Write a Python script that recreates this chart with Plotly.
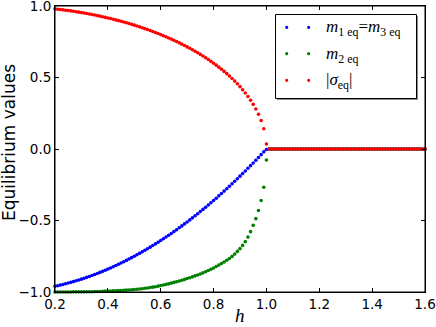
import plotly.graph_objects as go

# ---- data ----
H = [0.20, 0.21, 0.22, 0.23, 0.24, 0.25, 0.26, 0.27, 0.28, 0.29,
     0.30, 0.31, 0.32, 0.33, 0.34, 0.35, 0.36, 0.37, 0.38, 0.39,
     0.40, 0.41, 0.42, 0.43, 0.44, 0.45, 0.46, 0.47, 0.48, 0.49,
     0.50, 0.51, 0.52, 0.53, 0.54, 0.55, 0.56, 0.57, 0.58, 0.59,
     0.60, 0.61, 0.62, 0.63, 0.64, 0.65, 0.66, 0.67, 0.68, 0.69,
     0.70, 0.71, 0.72, 0.73, 0.74, 0.75, 0.76, 0.77, 0.78, 0.79,
     0.80, 0.81, 0.82, 0.83, 0.84, 0.85, 0.86, 0.87, 0.88, 0.89,
     0.90, 0.91, 0.92, 0.93, 0.94, 0.95, 0.96, 0.97, 0.98, 0.99,
     1.00, 1.01, 1.02, 1.03, 1.04, 1.05, 1.06, 1.07, 1.08, 1.09,
     1.10, 1.11, 1.12, 1.13, 1.14, 1.15, 1.16, 1.17, 1.18, 1.19,
     1.20, 1.21, 1.22, 1.23, 1.24, 1.25, 1.26, 1.27, 1.28, 1.29,
     1.30, 1.31, 1.32, 1.33, 1.34, 1.35, 1.36, 1.37, 1.38, 1.39,
     1.40, 1.41, 1.42, 1.43, 1.44, 1.45, 1.46, 1.47, 1.48, 1.49,
     1.50, 1.51, 1.52, 1.53, 1.54, 1.55, 1.56, 1.57, 1.58, 1.59,
     1.60]

M1_EQ = [-0.9600, -0.9559, -0.9516, -0.9471, -0.9424, -0.9375, -0.9324, -0.9271, -0.9216, -0.9159,
         -0.9100, -0.9039, -0.8976, -0.8911, -0.8844, -0.8775, -0.8704, -0.8631, -0.8556, -0.8479,
         -0.8400, -0.8319, -0.8236, -0.8151, -0.8064, -0.7975, -0.7884, -0.7791, -0.7696, -0.7599,
         -0.7500, -0.7399, -0.7296, -0.7191, -0.7084, -0.6975, -0.6864, -0.6751, -0.6636, -0.6519,
         -0.6400, -0.6279, -0.6156, -0.6031, -0.5904, -0.5775, -0.5644, -0.5511, -0.5376, -0.5239,
         -0.5100, -0.4959, -0.4816, -0.4671, -0.4524, -0.4375, -0.4224, -0.4071, -0.3916, -0.3759,
         -0.3600, -0.3439, -0.3276, -0.3111, -0.2944, -0.2775, -0.2604, -0.2431, -0.2256, -0.2079,
         -0.1900, -0.1719, -0.1536, -0.1351, -0.1164, -0.0975, -0.0784, -0.0591, -0.0396, -0.0199,
         -0.0030, 0.0, 0.0, 0.0, 0.0, 0.0, 0.0, 0.0, 0.0, 0.0,
         0.0, 0.0, 0.0, 0.0, 0.0, 0.0, 0.0, 0.0, 0.0, 0.0,
         0.0, 0.0, 0.0, 0.0, 0.0, 0.0, 0.0, 0.0, 0.0, 0.0,
         0.0, 0.0, 0.0, 0.0, 0.0, 0.0, 0.0, 0.0, 0.0, 0.0,
         0.0, 0.0, 0.0, 0.0, 0.0, 0.0, 0.0, 0.0, 0.0, 0.0,
         0.0, 0.0, 0.0, 0.0, 0.0, 0.0, 0.0, 0.0, 0.0, 0.0,
         0.0]

M2_EQ = [-1.000, -1.000, -1.000, -1.000, -1.000, -1.000, -1.000, -0.999, -0.999, -0.999,
         -0.999, -0.999, -0.998, -0.998, -0.998, -0.997, -0.997, -0.996, -0.995, -0.994,
         -0.994, -0.993, -0.992, -0.991, -0.990, -0.989, -0.988, -0.987, -0.986, -0.984,
         -0.983, -0.981, -0.979, -0.977, -0.974, -0.972, -0.969, -0.966, -0.963, -0.959,
         -0.955, -0.951, -0.947, -0.943, -0.938, -0.933, -0.928, -0.923, -0.918, -0.912,
         -0.906, -0.900, -0.894, -0.887, -0.881, -0.874, -0.866, -0.858, -0.850, -0.841,
         -0.832, -0.822, -0.812, -0.801, -0.790, -0.778, -0.766, -0.751, -0.735, -0.716,
         -0.697, -0.674, -0.648, -0.616, -0.578, -0.534, -0.487, -0.430, -0.360, -0.268,
         -0.077, 0.0, 0.0, 0.0, 0.0, 0.0, 0.0, 0.0, 0.0, 0.0,
         0.0, 0.0, 0.0, 0.0, 0.0, 0.0, 0.0, 0.0, 0.0, 0.0,
         0.0, 0.0, 0.0, 0.0, 0.0, 0.0, 0.0, 0.0, 0.0, 0.0,
         0.0, 0.0, 0.0, 0.0, 0.0, 0.0, 0.0, 0.0, 0.0, 0.0,
         0.0, 0.0, 0.0, 0.0, 0.0, 0.0, 0.0, 0.0, 0.0, 0.0,
         0.0, 0.0, 0.0, 0.0, 0.0, 0.0, 0.0, 0.0, 0.0, 0.0,
         0.0]

SIGMA_EQ = [0.9798, 0.9777, 0.9755, 0.9732, 0.9708, 0.9682, 0.9656, 0.9629, 0.9600, 0.9570,
            0.9539, 0.9507, 0.9474, 0.9440, 0.9404, 0.9367, 0.9330, 0.9290, 0.9250, 0.9208,
            0.9165, 0.9121, 0.9075, 0.9028, 0.8980, 0.8930, 0.8879, 0.8827, 0.8773, 0.8717,
            0.8660, 0.8602, 0.8542, 0.8480, 0.8417, 0.8352, 0.8285, 0.8216, 0.8146, 0.8074,
            0.8000, 0.7924, 0.7846, 0.7766, 0.7684, 0.7599, 0.7513, 0.7424, 0.7332, 0.7238,
            0.7141, 0.7042, 0.6940, 0.6834, 0.6726, 0.6614, 0.6499, 0.6380, 0.6258, 0.6131,
            0.6000, 0.5864, 0.5724, 0.5578, 0.5426, 0.5268, 0.5103, 0.4931, 0.4750, 0.4560,
            0.4359, 0.4146, 0.3919, 0.3676, 0.3412, 0.3122, 0.2800, 0.2431, 0.1990, 0.1411,
            0.0350, 0.0, 0.0, 0.0, 0.0, 0.0, 0.0, 0.0, 0.0, 0.0,
            0.0, 0.0, 0.0, 0.0, 0.0, 0.0, 0.0, 0.0, 0.0, 0.0,
            0.0, 0.0, 0.0, 0.0, 0.0, 0.0, 0.0, 0.0, 0.0, 0.0,
            0.0, 0.0, 0.0, 0.0, 0.0, 0.0, 0.0, 0.0, 0.0, 0.0,
            0.0, 0.0, 0.0, 0.0, 0.0, 0.0, 0.0, 0.0, 0.0, 0.0,
            0.0, 0.0, 0.0, 0.0, 0.0, 0.0, 0.0, 0.0, 0.0, 0.0,
            0.0]

X_TICKS = [0.2, 0.4, 0.6, 0.8, 1.0, 1.2, 1.4, 1.6]
X_TICK_TEXT = ["0.2", "0.4", "0.6", "0.8", "1.0", "1.2", "1.4", "1.6"]
Y_TICKS = [-1.0, -0.5, 0.0, 0.5, 1.0]
Y_TICK_TEXT = ["\u22121.0", "\u22120.5", "0.0", "0.5", "1.0"]

SERIES_NAMES = ["<i>m</i><sub>1 eq</sub>=<i>m</i><sub>3 eq</sub>",
                "<i>m</i><sub>2 eq</sub>",
                "|<i>\u03c3</i><sub>eq</sub>|"]
SERIES_COLORS = ["#0000ff", "#008000", "#ff0000"]

# ---- figure ----
W, HGT = 436, 327
ML, MR, MT, MB = 55, 11, 6, 35
PW, PH = W - ML - MR, HGT - MT - MB


def px_x(p):
    return (p - ML) / PW


def px_y(p):
    return (HGT - MB - p) / PH


fig = go.Figure()
for ys, name, col in zip([M1_EQ, M2_EQ, SIGMA_EQ], SERIES_NAMES, SERIES_COLORS):
    fig.add_trace(go.Scatter(x=H, y=ys, mode="markers", name=name,
                             marker=dict(color=col, size=3.6, line=dict(width=0)),
                             showlegend=False, cliponaxis=False))

axis_common = dict(showline=True, linecolor="black", linewidth=1, mirror="ticks",
                   ticks="inside", ticklen=4, tickwidth=0.8, tickcolor="black",
                   showgrid=False, zeroline=False, ticklabeloverflow="allow",
                   tickfont=dict(family="DejaVu Sans", size=13.5, color="black"))

fig.update_xaxes(range=[0.2, 1.6], tickvals=X_TICKS, ticktext=X_TICK_TEXT,
                 ticklabelstandoff=0, **axis_common)
fig.update_yaxes(range=[-1.0, 1.0], tickvals=Y_TICKS, ticktext=Y_TICK_TEXT,
                 ticklabelstandoff=0, **axis_common)

# plot frame drawn explicitly as well (so the top edge is always present)
fig.add_shape(type="rect", xref="paper", yref="paper", x0=0, x1=1, y0=0, y1=1,
              line=dict(color="black", width=1), layer="above")

# manual legend (box + two dots per entry + text)
box = dict(x0=px_x(275.5), x1=px_x(416.5), y0=px_y(98.5), y1=px_y(14.5))
fig.add_shape(type="rect", xref="paper", yref="paper",
              x0=box["x0"] + 1.5 / PW, x1=box["x1"] + 1.5 / PW,
              y0=box["y0"] - 1.5 / PH, y1=box["y1"] - 1.5 / PH,
              line=dict(width=0), fillcolor="rgba(0,0,0,0.45)", layer="above")
fig.add_shape(type="rect", xref="paper", yref="paper", **box,
              line=dict(color="black", width=1), fillcolor="white", layer="above")
rows_y = [27.3, 53.7, 80.3]
dot_x = [286.7, 308.7]
for ry, col, name in zip(rows_y, SERIES_COLORS, SERIES_NAMES):
    for dx in dot_x:
        fig.add_shape(type="circle", xref="paper", yref="paper",
                      xsizemode="pixel", ysizemode="pixel",
                      xanchor=px_x(dx), yanchor=px_y(ry),
                      x0=-1.6, x1=1.6, y0=-1.6, y1=1.6,
                      line=dict(width=0), fillcolor=col, layer="above")
    fig.add_annotation(xref="paper", yref="paper", x=px_x(324), y=px_y(ry + 1),
                       xanchor="left", yanchor="middle", showarrow=False, text=name,
                       font=dict(family="Liberation Serif", size=17, color="black"))

# axis titles
fig.add_annotation(xref="paper", yref="paper", x=px_x(240), y=px_y(315),
                   xanchor="center", yanchor="middle", showarrow=False,
                   text="<i>h</i>", font=dict(family="Liberation Serif", size=19, color="black"))
fig.add_annotation(xref="paper", yref="paper", x=px_x(9), y=px_y(143),
                   xanchor="center", yanchor="middle", showarrow=False, textangle=-90,
                   text="Equilibrium values",
                   font=dict(family="DejaVu Sans", size=17, color="black"))

fig.update_layout(width=W, height=HGT, margin=dict(l=ML, r=MR, t=MT, b=MB, autoexpand=False),
                  paper_bgcolor="white", plot_bgcolor="white", showlegend=False,
                  font=dict(family="DejaVu Sans", color="black"))

fig.write_html("out.html", config={"displayModeBar": False},
               post_script="document.body.style.margin='0';document.body.style.overflow='hidden';")
